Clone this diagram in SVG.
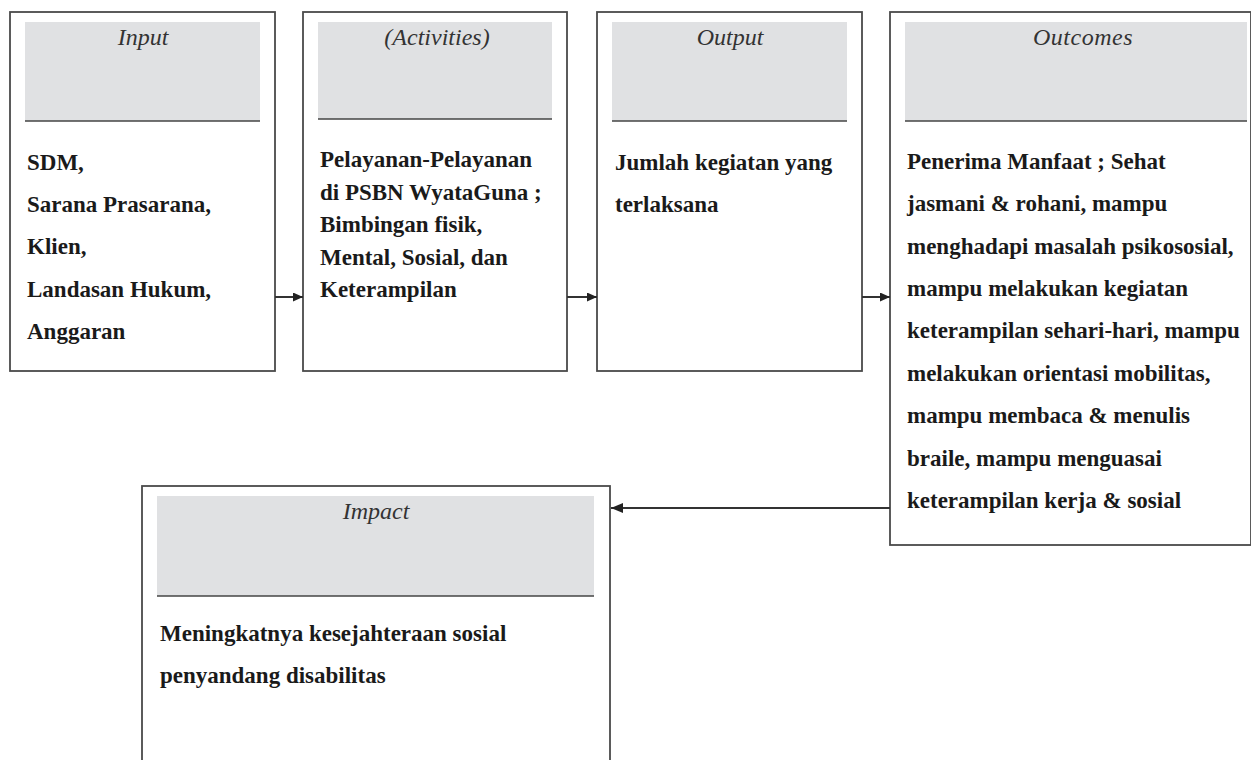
<svg xmlns="http://www.w3.org/2000/svg" width="1251" height="760" viewBox="0 0 1251 760">
<style>
.box{fill:#ffffff;stroke:#4a4a4a;stroke-width:1.8}
.hdr{fill:#e0e1e3}
.hline{stroke:#444;stroke-width:1.6}
.ttl{font-family:"Liberation Serif","Times New Roman",serif;font-style:italic;font-size:24px;fill:#333;text-anchor:middle}
.body{font-family:"Liberation Serif","Times New Roman",serif;font-weight:bold;font-size:23px;fill:#1a1a1a}
.con{stroke:#333;stroke-width:2;fill:none}
</style>
<defs>
<marker id="ah" markerWidth="10" markerHeight="9" refX="10" refY="4.5" orient="auto" markerUnits="userSpaceOnUse">
<path d="M0,0 L10,4.5 L0,9 Z" fill="#222"/>
</marker>
<marker id="ahl" markerWidth="12" markerHeight="10" refX="12" refY="5" orient="auto" markerUnits="userSpaceOnUse">
<path d="M0,0 L12,5 L0,10 Z" fill="#222"/>
</marker>
</defs>
<rect width="1251" height="760" fill="#ffffff"/>

<g id="input">
<rect class="box" x="10" y="12" width="265" height="359"/>
<rect class="hdr" x="25" y="22" width="235" height="99"/>
<line class="hline" x1="25" y1="121" x2="260" y2="121"/>
<text class="ttl" x="143" y="45">Input</text>
<text class="body" x="27" y="170">SDM,</text>
<text class="body" x="27" y="212">Sarana Prasarana,</text>
<text class="body" x="27" y="254">Klien,</text>
<text class="body" x="27" y="297">Landasan Hukum,</text>
<text class="body" x="27" y="339">Anggaran</text>
</g>

<g id="activities">
<rect class="box" x="303" y="12" width="264" height="359"/>
<rect class="hdr" x="318" y="22" width="234" height="97"/>
<line class="hline" x1="318" y1="119" x2="552" y2="119"/>
<text class="ttl" x="437" y="45">(<tspan font-style="italic">Activities</tspan>)</text>
<text class="body" x="320" y="167">Pelayanan-Pelayanan</text>
<text class="body" x="320" y="199.5">di PSBN WyataGuna ;</text>
<text class="body" x="320" y="232">Bimbingan fisik,</text>
<text class="body" x="320" y="264.5">Mental, Sosial, dan</text>
<text class="body" x="320" y="297">Keterampilan</text>
</g>

<g id="output">
<rect class="box" x="597" y="12" width="265" height="359"/>
<rect class="hdr" x="612" y="22" width="235" height="99"/>
<line class="hline" x1="612" y1="121" x2="847" y2="121"/>
<text class="ttl" x="730" y="45">Output</text>
<text class="body" x="615" y="170">Jumlah kegiatan yang</text>
<text class="body" x="615" y="212">terlaksana</text>
</g>

<g id="outcomes">
<rect class="box" x="890" y="12" width="361" height="533"/>
<rect class="hdr" x="905" y="22" width="342" height="99"/>
<line class="hline" x1="905" y1="121" x2="1247" y2="121"/>
<text class="ttl" x="1083" y="45" letter-spacing="0.5">Outcomes</text>
<text class="body" x="907" y="169">Penerima Manfaat ; Sehat</text>
<text class="body" x="907" y="211">jasmani &amp; rohani, mampu</text>
<text class="body" x="907" y="254">menghadapi masalah psikososial,</text>
<text class="body" x="907" y="296">mampu melakukan kegiatan</text>
<text class="body" x="907" y="338">keterampilan sehari-hari, mampu</text>
<text class="body" x="907" y="381">melakukan orientasi mobilitas,</text>
<text class="body" x="907" y="423">mampu membaca &amp; menulis</text>
<text class="body" x="907" y="466">braile, mampu menguasai</text>
<text class="body" x="907" y="508">keterampilan kerja &amp; sosial</text>
</g>

<g id="impact">
<rect class="box" x="142" y="486" width="468" height="300"/>
<rect class="hdr" x="157" y="496" width="437" height="100"/>
<line class="hline" x1="157" y1="596" x2="594" y2="596"/>
<text class="ttl" x="376" y="519">Impact</text>
<text class="body" x="160" y="641">Meningkatnya kesejahteraan sosial</text>
<text class="body" x="160" y="683">penyandang disabilitas</text>
</g>

<g id="connectors">
<line class="con" x1="275" y1="297" x2="303" y2="297" marker-end="url(#ah)"/>
<line class="con" x1="567" y1="297" x2="597" y2="297" marker-end="url(#ah)"/>
<line class="con" x1="862" y1="297" x2="890" y2="297" marker-end="url(#ah)"/>
<line class="con" x1="890" y1="508" x2="611" y2="508" marker-end="url(#ahl)"/>
</g>
</svg>
